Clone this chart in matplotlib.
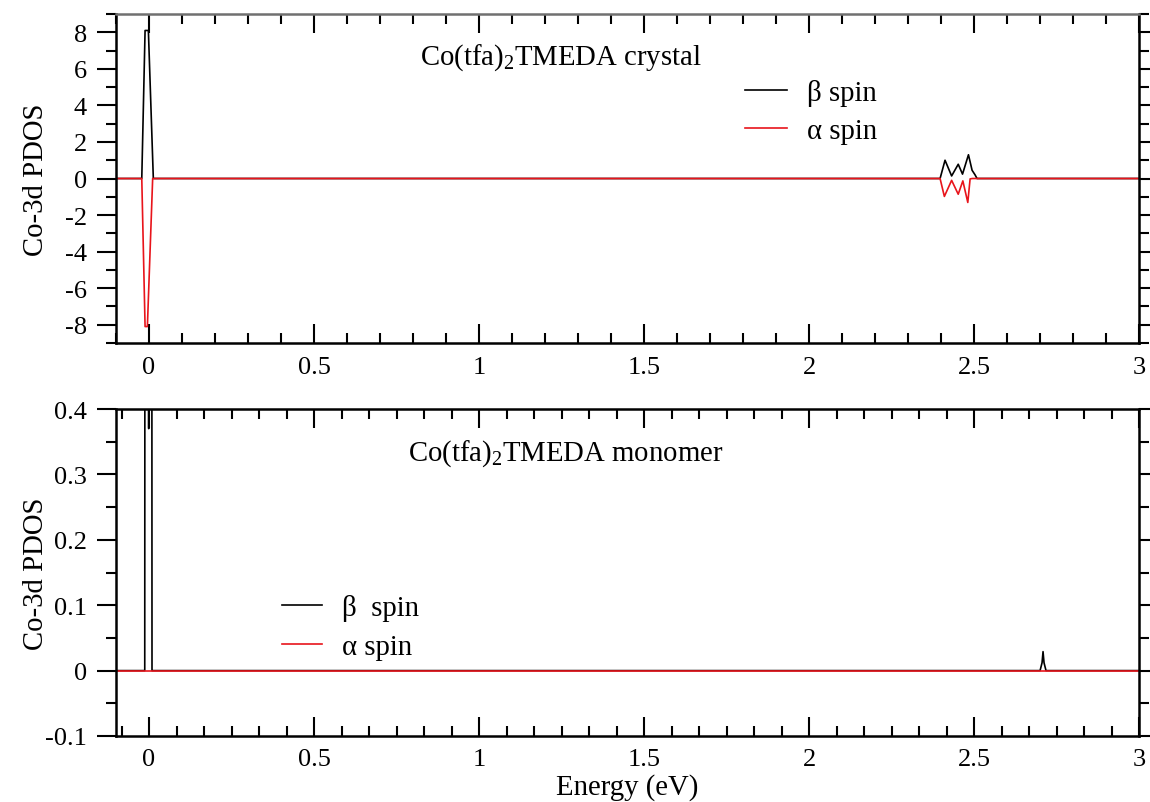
import matplotlib
matplotlib.use("Agg")
import matplotlib.pyplot as plt
from matplotlib.ticker import MultipleLocator, AutoMinorLocator

plt.rcParams['font.family'] = ['Liberation Serif', 'DejaVu Serif']
plt.rcParams['mathtext.fontset'] = 'custom'
plt.rcParams['mathtext.rm'] = 'Liberation Serif'
plt.rcParams['axes.unicode_minus'] = False

# ---- data: crystal (top) ----
cry_beta_x = [-0.1, -0.022, -0.012, -0.002, 0.013,
              2.397, 2.412, 2.432, 2.452, 2.465, 2.483, 2.494, 2.503, 2.509, 3.0]
cry_beta_y = [0, 0, 8.1, 8.1, 0,
              0, 1.0, 0.14, 0.78, 0.24, 1.3, 0.45, 0.2, 0, 0]
cry_alpha_x = [-0.1, -0.022, -0.012, -0.005, 0.011,
               2.397, 2.410, 2.432, 2.452, 2.466, 2.481, 2.488, 2.495, 3.0]
cry_alpha_y = [0, 0, -8.1, -8.1, 0,
               0, -0.98, -0.1, -0.86, -0.13, -1.31, -0.02, 0, 0]

# ---- data: monomer (bottom) ----
mono_beta_x = [-0.1, -0.013, -0.011, -0.004, -0.001, 0.002, 0.007, 0.009,
               2.700, 2.706, 2.709, 2.712, 2.718, 3.0]
mono_beta_y = [0, 0, 2.5, 2.5, 0.37, 2.5, 2.5, 0,
               0, 0.012, 0.029, 0.012, 0, 0]
mono_alpha_x = [-0.1, 3.0]
mono_alpha_y = [0, 0]

top_yticks = [-8, -6, -4, -2, 0, 2, 4, 6, 8]
bot_yticks = [-0.1, 0, 0.1, 0.2, 0.3, 0.4]
xticks = [0, 0.5, 1, 1.5, 2, 2.5, 3]

FS_TICK = 19
FS = 20.7
RED = '#e8141b'

fig = plt.figure(figsize=(11.5, 8.03), dpi=100)
ax1 = fig.add_axes([0.1009, 0.5716, 0.8896, 0.4097])
ax2 = fig.add_axes([0.1009, 0.0822, 0.8896, 0.4072])

def style(ax, yticks, ylim, yminor, xminor_n):
    ax.set_xlim(-0.1, 3.0)
    ax.set_ylim(*ylim)
    ax.set_xticks(xticks)
    ax.set_xticklabels([('%g' % t) for t in xticks])
    ax.set_yticks(yticks)
    ax.set_yticklabels([('%g' % t) for t in yticks])
    ax.xaxis.set_minor_locator(AutoMinorLocator(xminor_n))
    ax.yaxis.set_minor_locator(MultipleLocator(yminor))
    ax.tick_params(axis='x', which='both', direction='in', top=True, bottom=True,
                   labelsize=FS_TICK, pad=9, width=1.5)
    ax.tick_params(axis='x', which='major', length=14)
    ax.tick_params(axis='x', which='minor', length=7)
    ax.tick_params(axis='y', which='both', direction='out', left=True, right=True,
                   labelright=False, labelsize=FS_TICK, pad=7, width=1.5)
    ax.tick_params(axis='y', which='major', length=14)
    ax.tick_params(axis='y', which='minor', length=7)
    for s in ax.spines.values():
        s.set_linewidth(1.8)
    ax.set_ylabel('Co-3d PDOS', fontsize=FS)
    ax.yaxis.set_label_coords(-0.066, 0.5)

# top panel
ax1.plot(cry_beta_x, cry_beta_y, color='black', lw=1.2, label='\u03b2 spin')
ax1.plot(cry_alpha_x, cry_alpha_y, color=RED, lw=1.2, label='\u03b1 spin')
style(ax1, top_yticks, (-9, 9), 1, 5)
ax1.spines['top'].set_color('#707070')
ax1.text(0.297, 0.870, 'Co(tfa)$_\\mathregular{2}$TMEDA crystal', transform=ax1.transAxes,
         fontsize=FS, ha='left', va='center')
ax1.legend(loc='upper left', bbox_to_anchor=(0.615, 0.803), frameon=False,
           fontsize=FS, handlelength=1.46, handletextpad=0.7, labelspacing=0.43,
           borderpad=0, borderaxespad=0)

# bottom panel
ax2.plot(mono_beta_x, mono_beta_y, color='black', lw=1.2, label='\u03b2  spin')
ax2.plot(mono_alpha_x, mono_alpha_y, color=RED, lw=1.2, label='\u03b1 spin')
style(ax2, bot_yticks, (-0.1, 0.4), 0.05, 6)
ax2.text(0.285, 0.866, 'Co(tfa)$_\\mathregular{2}$TMEDA monomer', transform=ax2.transAxes,
         fontsize=FS, ha='left', va='center')
ax2.legend(loc='upper left', bbox_to_anchor=(0.162, 0.4335), frameon=False,
           fontsize=FS, handlelength=1.39, handletextpad=0.7, labelspacing=0.43,
           borderpad=0, borderaxespad=0)
ax2.set_xlabel('Energy (eV)', fontsize=FS, labelpad=2)

fig.savefig('out.png', dpi=100)
